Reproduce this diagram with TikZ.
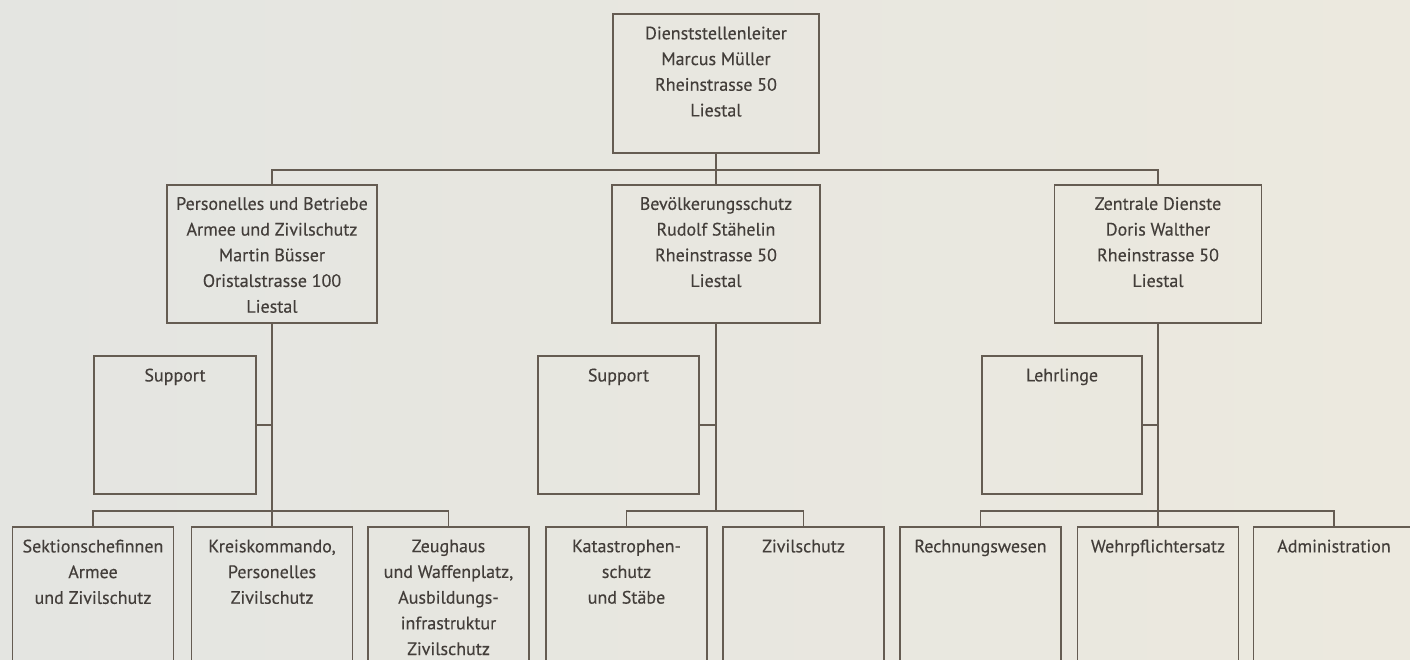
\documentclass[tikz,border=0pt]{standalone}
\usepackage{fontspec}
\setmainfont[FakeBold=0.3]{PT Sans}
\usetikzlibrary{calc}
\definecolor{paperL}{HTML}{E4E5E1}
\definecolor{paperR}{HTML}{ECE9DF}
\definecolor{ink}{HTML}{655C52}
\definecolor{txtc}{HTML}{433E3A}
\tikzset{
  orgbox/.style={draw=ink, line width=1.2pt, rectangle, inner sep=0pt, minimum width=#1},
  orgbox/.default=161pt,
  conn/.style={draw=ink, line width=1.2pt},
  orgtxt/.style={anchor=north, inner sep=0pt, align=center, text=txtc,
    font=\fontsize{18}{25.7}\selectfont}
}
\begin{document}
\begin{tikzpicture}[x=1pt,y=-1pt]
\useasboundingbox (0,0) rectangle (1410,660);
\clip (0,0) rectangle (1410,660);
\shade[left color=paperL, right color=paperR] (0,0) rectangle (1410,660);

% top
\node[orgbox=206pt, minimum height=139pt] (top) at (716,83.5) {};
% middle row
\node[orgbox=210pt, minimum height=138pt] (L) at (272,254) {};
\node[orgbox=208pt, minimum height=138pt] (M) at (716,254) {};
\node[orgbox=207pt, minimum height=138pt] (R) at (1158,254) {};
% support row
\node[orgbox=162pt, minimum height=138pt] (S1) at (175,425) {};
\node[orgbox=161pt, minimum height=138pt] (S2) at (618.5,425) {};
\node[orgbox=160pt, minimum height=138pt] (S3) at (1062,425) {};
% bottom row
\node[orgbox, minimum height=160pt] (B1) at (93,607) {};
\node[orgbox, minimum height=160pt] (B2) at (272,607) {};
\node[orgbox, minimum height=160pt] (B3) at (448.5,607) {};
\node[orgbox, minimum height=160pt] (B4) at (626.5,607) {};
\node[orgbox, minimum height=160pt] (B5) at (803.5,607) {};
\node[orgbox, minimum height=160pt] (B6) at (980.5,607) {};
\node[orgbox, minimum height=160pt] (B7) at (1158,607) {};
\node[orgbox, minimum height=160pt] (B8) at (1334,607) {};

% texts
\node[orgtxt] (ttop) at ([yshift=-13pt]top.north) {Dienststellenleiter\\Marcus Müller\\Rheinstrasse 50\\Liestal};
\node[orgtxt] (tL) at ([yshift=-12.5pt]L.north) {Personelles und Betriebe\\Armee und Zivilschutz\\Martin Büsser\\Oristalstrasse 100\\Liestal};
\node[orgtxt] (tM) at ([yshift=-12.5pt]M.north) {Bevölkerungsschutz\\Rudolf Stähelin\\Rheinstrasse 50\\Liestal};
\node[orgtxt] (tR) at ([yshift=-12.5pt]R.north) {Zentrale Dienste\\Doris Walther\\Rheinstrasse 50\\Liestal};
\node[orgtxt] (tS1) at ([yshift=-13pt]S1.north) {Support};
\node[orgtxt] (tS2) at ([yshift=-13pt]S2.north) {Support};
\node[orgtxt] (tS3) at ([yshift=-13pt]S3.north) {Lehrlinge};
\node[orgtxt] (tB1) at ([yshift=-13pt]B1.north) {Sektionschefinnen\\Armee\\und Zivilschutz};
\node[orgtxt] (tB2) at ([yshift=-13pt]B2.north) {Kreiskommando,\\Personelles\\Zivilschutz};
\node[orgtxt] (tB3) at ([yshift=-13pt]B3.north) {Zeughaus\\und Waffenplatz,\\Ausbildungs-\\infrastruktur\\Zivilschutz};
\node[orgtxt] (tB4) at ([yshift=-13pt]B4.north) {Katastrophen-\\schutz\\und Stäbe};
\node[orgtxt] (tB5) at ([yshift=-13pt]B5.north) {Zivilschutz};
\node[orgtxt] (tB6) at ([yshift=-13pt]B6.north) {Rechnungswesen};
\node[orgtxt] (tB7) at ([yshift=-13pt]B7.north) {Wehrpflichtersatz};
\node[orgtxt] (tB8) at ([yshift=-13pt]B8.north) {Administration};

% connectors: top level
\coordinate (j1) at (716,170);
\draw[conn] (top.south) -- (M.north);
\draw[conn] (L.north) |- (j1) -| (R.north);

% support connectors
\draw[conn] (S1.east) -- (S1.east -| L.south);
\draw[conn] (S2.east) -- (S2.east -| M.south);
\draw[conn] (S3.east) -- (S3.east -| R.south);

% verticals down to lower bus
\coordinate (jL) at (272,511);
\coordinate (jM) at (716,511);
\coordinate (jR) at (1158,511);
\draw[conn] (L.south) -- (B2.north);
\draw[conn] (M.south) -- (jM);
\draw[conn] (R.south) -- (B7.north);

% lower buses
\draw[conn] (B1.north) |- (jL) -| (B3.north);
\draw[conn] (B4.north) |- (jM) -| (B5.north);
\draw[conn] (B6.north) |- (jR) -| (B8.north);
\end{tikzpicture}
\end{document}
